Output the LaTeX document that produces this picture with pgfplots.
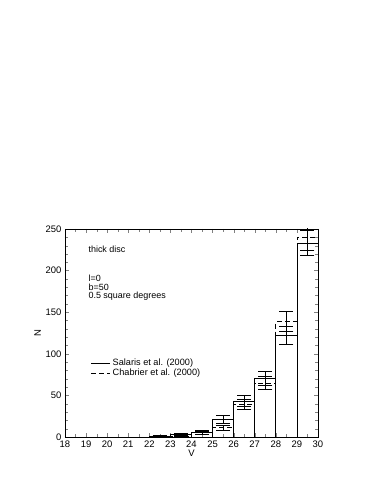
\documentclass[border=0pt]{standalone}
\usepackage{fontspec}
\setmainfont{Liberation Sans}
\usepackage{pgfplots}
\pgfplotsset{compat=1.18}
\begin{document}
\begin{tikzpicture}
\useasboundingbox (-65bp,-57bp) rectangle (317bp,437bp);
\begin{axis}[at={(0,0)}, anchor=south west, scale only axis,
  width=253bp, height=208bp,
  xmin=18, xmax=30, ymin=0, ymax=250,
  xtick={18,...,30}, ytick={0,50,...,250}, minor y tick num=4, minor x tick num=1,
  xlabel={V}, ylabel={N},
  /pgf/number format/assume math mode=true,
  tick label style={font=\fontsize{9.5}{11}\selectfont},
  label style={font=\fontsize{9.5}{11}\selectfont},
  xlabel style={yshift=4bp},
  ylabel style={yshift=-2bp},
  axis line style={line width=0.6pt},
  legend style={draw=none, fill=none, at={(0.09,0.395)}, anchor=north west,
    font=\fontsize{9.2}{11}\selectfont, row sep=-2bp},
  legend cell align=left,
  legend image code/.code={\draw[#1] (0bp,0bp) -- (19bp,0bp);},
]
\addplot[ybar interval, fill=none, draw=black, line width=0.8pt] coordinates {
 (22,1) (23,3) (24,5) (25,21) (26,43) (27,70) (28,122) (29,233) (30,233)};
\addlegendentry{Salaris et al. (2000)}
\addplot[ybar interval, fill=none, draw=black, line width=0.8pt, dash pattern=on 5bp off 3bp] coordinates {
 (22,1) (23,1) (24,6) (25,11) (26,39) (27,65) (28,139) (29,240) (30,240)};
\addlegendentry{Chabrier et al. (2000)}
\addplot[draw=none, mark=none, forget plot,
  error bars/.cd, y dir=both, y explicit, error mark=-,
  error bar style={draw=black, solid, line width=0.8pt},
  error mark options={draw=black, solid, line width=0.8pt, mark size=7bp, rotate=90}]
 coordinates {
 (22.5,1) +- (0,1)
 (23.5,3) +- (0,1.73)
 (24.5,5) +- (0,2.24)
 (25.5,21) +- (0,4.58)
 (26.5,43) +- (0,6.56)
 (27.5,70) +- (0,8.37)
 (28.5,122) +- (0,11.05)
 (29.5,233) +- (0,15.26)
 };
\addplot[draw=none, mark=none, forget plot,
  error bars/.cd, y dir=both, y explicit, error mark=-,
  error bar style={draw=black, solid, line width=0.8pt},
  error mark options={draw=black, solid, line width=0.8pt, mark size=7bp, rotate=90}]
 coordinates {
 (22.5,1) +- (0,1)
 (23.5,1) +- (0,1)
 (24.5,6) +- (0,2.45)
 (25.5,11) +- (0,3.32)
 (26.5,39) +- (0,6.24)
 (27.5,65) +- (0,8.06)
 (28.5,139) +- (0,11.79)
 (29.5,240) +- (0,15.49)
 };
\node[anchor=west, font=\fontsize{9}{11}\selectfont] at (axis cs:18.95,226) {thick disc};
\node[anchor=west, font=\fontsize{9}{11}\selectfont] at (axis cs:18.95,191) {l=0};
\node[anchor=west, font=\fontsize{9}{11}\selectfont] at (axis cs:18.95,180) {b=50};
\node[anchor=west, font=\fontsize{9}{11}\selectfont] at (axis cs:18.95,169.5) {0.5 square degrees};
\end{axis}
\end{tikzpicture}
\end{document}
